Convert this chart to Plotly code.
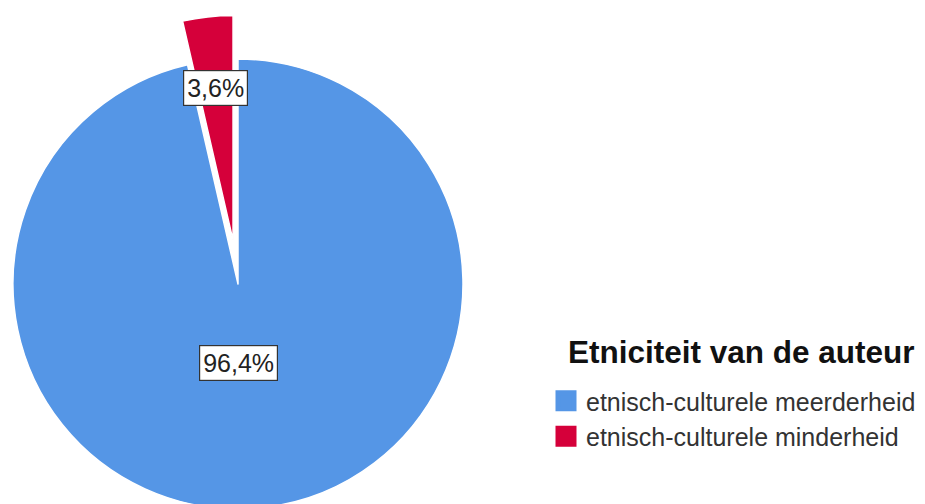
import math
import plotly.graph_objects as go

# ── Data ─────────────────────────────────────────────────────────────────────
LABELS = ["etnisch-culturele meerderheid", "etnisch-culturele minderheid"]
VALUES = [96.4, 3.6]
TEXTS = ["96,4%", "3,6%"]
COLORS = ["#5596e6", "#d5003a"]
LEGEND_TITLE = "Etniciteit van de auteur"

W, H = 925, 504
OFF = 8                            # page body margin
CX, CY, R = 238 - OFF, 284 - OFF, 225   # pie centre / radius in figure px
PULL = 0.195                       # exploded slice, fraction of radius
FONT = "Liberation Sans, Arial, sans-serif"


def px_x(x):
    return x / W


def px_y(y):
    return 1 - y / H


def domain(cx, cy, r):
    return dict(x=[px_x(cx - r), px_x(cx + r)], y=[px_y(cy + r), px_y(cy - r)])


# mid angle of every slice, clockwise from 12 o'clock
total = sum(VALUES)
mids, acc = [], 0.0
for v in VALUES:
    mids.append(2 * math.pi * (acc + v / 2) / total)
    acc += v

# exploded red slice: shift its pie along the slice bisector
d = PULL * R
cxb = CX + d * math.sin(mids[1])
cyb = CY - d * math.cos(mids[1])

CLEAR = "rgba(0,0,0,0)"
fig = go.Figure()
fig.add_trace(go.Pie(
    labels=LABELS, values=VALUES, sort=False, direction="clockwise", rotation=0,
    marker=dict(colors=[COLORS[0], CLEAR], line=dict(color=["white", CLEAR], width=1.5)),
    textinfo="none", hoverinfo="label+percent", showlegend=False,
    domain=domain(CX, CY, R),
))
fig.add_trace(go.Pie(
    labels=LABELS, values=VALUES, sort=False, direction="clockwise", rotation=0,
    marker=dict(colors=[CLEAR, COLORS[1]], line=dict(color=[CLEAR, "white"], width=1.5)),
    textinfo="none", hoverinfo="label+percent", showlegend=False,
    domain=domain(cxb, cyb, R),
))

# legend entries (square swatches)
for lab, col in zip(LABELS, COLORS):
    fig.add_trace(go.Scatter(
        x=[None], y=[None], mode="markers", name=lab,
        marker=dict(symbol="square", size=16, color=col, line=dict(color=col, width=5)),
    ))

# boxed percentage labels
label_pos = [
    (CX, CY + 0.35 * R),
    (cxb + 0.68 * R * math.sin(mids[1]), cyb - 0.68 * R * math.cos(mids[1])),
]
for (lx, ly), t in zip(label_pos, TEXTS):
    fig.add_annotation(
        x=px_x(lx), y=px_y(ly), xref="paper", yref="paper", text=t, showarrow=False,
        xanchor="center", yanchor="middle",
        font=dict(family=FONT, size=25, color="#222"),
        bgcolor="white", bordercolor="#333", borderwidth=1.2, borderpad=3,
    )

# legend title
fig.add_annotation(
    x=px_x(566 - OFF), y=px_y(352 - OFF), xref="paper", yref="paper",
    text="<b>" + LEGEND_TITLE + "</b>", showarrow=False, xanchor="left", yanchor="middle",
    font=dict(family=FONT, size=31.5, color="#111"),
)

fig.update_layout(
    width=W, height=H,
    margin=dict(l=0, r=0, t=0, b=0),
    paper_bgcolor="white", plot_bgcolor="white",
    xaxis=dict(visible=False), yaxis=dict(visible=False),
    font=dict(family=FONT, color="#222"),
    legend=dict(
        font=dict(size=25, color="#333"),
        x=px_x(546 - OFF), y=px_y(378 - OFF), xanchor="left", yanchor="top",
        bgcolor="rgba(0,0,0,0)", tracegroupgap=0,
    ),
)

fig.write_html("out.html")
